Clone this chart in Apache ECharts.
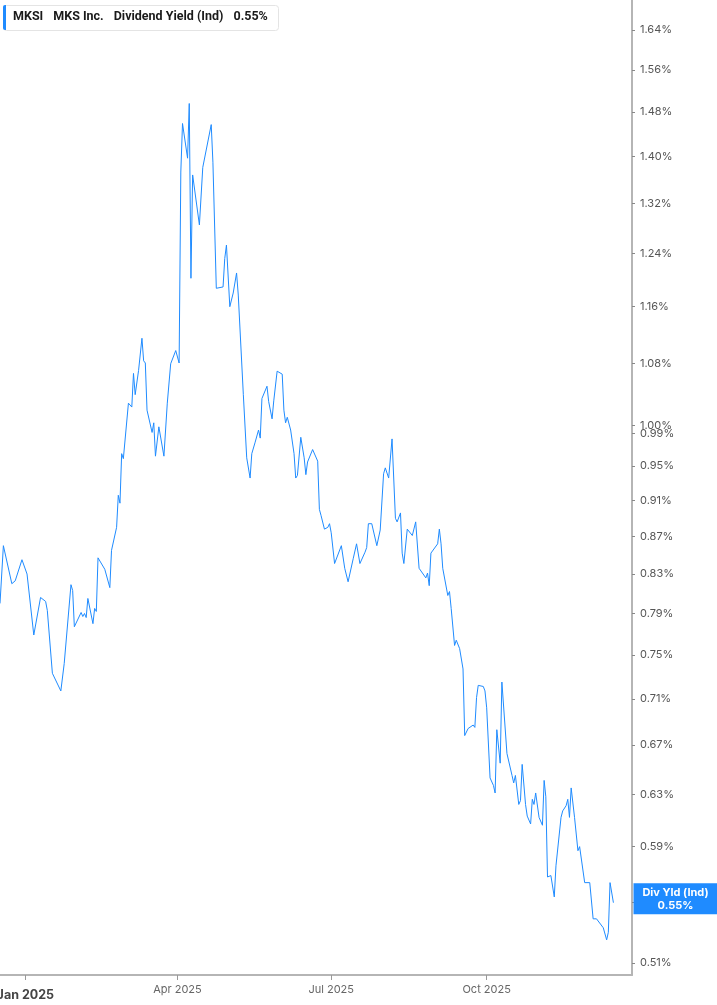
<!DOCTYPE html>
<html>
<head>
<meta charset="utf-8">
<script src="https://cdn.jsdelivr.net/npm/echarts@6/dist/echarts.min.js"></script>
<style>
html, body { margin: 0; padding: 0; background: #fff; }
#container { width: 717px; height: 1005px; }
</style>
</head>
<body>
<div id="container"></div>
<script>
// MKSI dividend yield (ind), daily closes
var dates = [
    '2024-12-17', '2024-12-19', '2024-12-24', '2024-12-26', '2024-12-30',
    '2025-01-02', '2025-01-06', '2025-01-10', '2025-01-13', '2025-01-14', '2025-01-17', '2025-01-22', '2025-01-24', '2025-01-28', '2025-01-29', '2025-01-30', '2025-01-31',
    '2025-02-03', '2025-02-04', '2025-02-05', '2025-02-06', '2025-02-07', '2025-02-10', '2025-02-11', '2025-02-12', '2025-02-13', '2025-02-14', '2025-02-17', '2025-02-20', '2025-02-21', '2025-02-24', '2025-02-25', '2025-02-26', '2025-02-27', '2025-02-28',
    '2025-03-03', '2025-03-05', '2025-03-06', '2025-03-07', '2025-03-09', '2025-03-11', '2025-03-12', '2025-03-13', '2025-03-14', '2025-03-17', '2025-03-18', '2025-03-19', '2025-03-21', '2025-03-24', '2025-03-26', '2025-03-28', '2025-03-31',
    '2025-04-02', '2025-04-03', '2025-04-04', '2025-04-07', '2025-04-08', '2025-04-09', '2025-04-10', '2025-04-14', '2025-04-16', '2025-04-17', '2025-04-21', '2025-04-22', '2025-04-24', '2025-04-28', '2025-04-29', '2025-04-30',
    '2025-05-02', '2025-05-04', '2025-05-06', '2025-05-07', '2025-05-10', '2025-05-12', '2025-05-14', '2025-05-15', '2025-05-17', '2025-05-19', '2025-05-20', '2025-05-21', '2025-05-22', '2025-05-24', '2025-05-25', '2025-05-27', '2025-05-28', '2025-05-29', '2025-05-30',
    '2025-06-02', '2025-06-03', '2025-06-04', '2025-06-05', '2025-06-07', '2025-06-09', '2025-06-10', '2025-06-11', '2025-06-12', '2025-06-13', '2025-06-15', '2025-06-16', '2025-06-17', '2025-06-18', '2025-06-20', '2025-06-23', '2025-06-24', '2025-06-25', '2025-06-27', '2025-06-29', '2025-06-30',
    '2025-07-01', '2025-07-03', '2025-07-04', '2025-07-07', '2025-07-09', '2025-07-11', '2025-07-14', '2025-07-16', '2025-07-18', '2025-07-21', '2025-07-22', '2025-07-23', '2025-07-25', '2025-07-28', '2025-07-30',
    '2025-08-01', '2025-08-02', '2025-08-04', '2025-08-06', '2025-08-08', '2025-08-09', '2025-08-11', '2025-08-12', '2025-08-13', '2025-08-15', '2025-08-18', '2025-08-20', '2025-08-21', '2025-08-22', '2025-08-26', '2025-08-27', '2025-08-28', '2025-08-29',
    '2025-09-02', '2025-09-03', '2025-09-04', '2025-09-05', '2025-09-08', '2025-09-09', '2025-09-10', '2025-09-12', '2025-09-13', '2025-09-15', '2025-09-17', '2025-09-18', '2025-09-20', '2025-09-23', '2025-09-24', '2025-09-25', '2025-09-26', '2025-09-29', '2025-09-30',
    '2025-10-01', '2025-10-03', '2025-10-05', '2025-10-06', '2025-10-07', '2025-10-09', '2025-10-10', '2025-10-13', '2025-10-14', '2025-10-16', '2025-10-17', '2025-10-18', '2025-10-20', '2025-10-21', '2025-10-22', '2025-10-24', '2025-10-25', '2025-10-27', '2025-10-28', '2025-10-29', '2025-10-30',
    '2025-11-01', '2025-11-03', '2025-11-04', '2025-11-05', '2025-11-06', '2025-11-08', '2025-11-10', '2025-11-11', '2025-11-12', '2025-11-14', '2025-11-15', '2025-11-17', '2025-11-18', '2025-11-19', '2025-11-20', '2025-11-22', '2025-11-24', '2025-11-25', '2025-11-28',
    '2025-12-01', '2025-12-03', '2025-12-05', '2025-12-06', '2025-12-09', '2025-12-11', '2025-12-12', '2025-12-13', '2025-12-15'
];

var yields = [
    0.80, 0.86, 0.82, 0.823, 0.845,
    0.83, 0.769, 0.806, 0.802, 0.793, 0.733, 0.717, 0.742, 0.819, 0.813, 0.777, 0.776,
    0.791, 0.787, 0.79, 0.786, 0.805, 0.78, 0.795, 0.792, 0.847, 0.849, 0.835, 0.816, 0.855, 0.88, 0.916, 0.907, 0.965, 0.959,
    1.028, 1.023, 1.067, 1.039, 1.071, 1.115, 1.084, 1.081, 1.019, 0.991, 1.003, 0.962, 0.998, 0.962, 1.028, 1.08, 1.098,
    1.081, 1.373, 1.459, 1.397, 1.496, 1.202, 1.368, 1.285, 1.381, 1.381, 1.457, 1.39, 1.187, 1.189, 1.232, 1.253,
    1.16, 1.18, 1.21, 1.177, 1.039, 0.96, 0.936, 0.965, 0.979, 0.994, 0.984, 1.034, 1.036, 1.05, 1.03, 1.008, 1.031, 1.032, 1.07,
    1.066, 1.019, 1.003, 1.01, 0.994, 0.965, 0.936, 0.939, 0.939, 0.985, 0.96, 0.94, 0.955, 0.955, 0.97, 0.956, 0.90, 0.893, 0.878, 0.88, 0.884,
    0.874, 0.841, 0.842, 0.86, 0.836, 0.822, 0.846, 0.862, 0.841, 0.853, 0.858, 0.884, 0.884, 0.86, 0.877,
    0.941, 0.948, 0.936, 0.983, 0.89, 0.886, 0.896, 0.852, 0.841, 0.878, 0.871, 0.886, 0.884, 0.836, 0.826, 0.831, 0.818, 0.852,
    0.862, 0.878, 0.862, 0.836, 0.808, 0.812, 0.795, 0.759, 0.764, 0.756, 0.737, 0.678, 0.684, 0.687, 0.685, 0.711, 0.722, 0.721, 0.717,
    0.702, 0.643, 0.637, 0.631, 0.683, 0.655, 0.725, 0.663, 0.663, 0.645, 0.639, 0.645, 0.622, 0.625, 0.654, 0.622, 0.613, 0.607, 0.626, 0.622, 0.631,
    0.612, 0.606, 0.641, 0.628, 0.568, 0.569, 0.554, 0.576, 0.575, 0.612, 0.617, 0.621, 0.626, 0.612, 0.635, 0.612, 0.587, 0.59, 0.564,
    0.564, 0.539, 0.539, 0.54, 0.533, 0.525, 0.53, 0.564, 0.55
];

var yTicks = [1.64, 1.56, 1.48, 1.40, 1.32, 1.24, 1.16, 1.08, 1.00, 0.99, 0.95, 0.91, 0.87, 0.83, 0.79, 0.75, 0.71, 0.67, 0.63, 0.59, 0.55, 0.51];
var xTicks = ['2025-01-01', '2025-04-01', '2025-07-01', '2025-10-01'];
var monthNames = ['Jan', 'Feb', 'Mar', 'Apr', 'May', 'Jun', 'Jul', 'Aug', 'Sep', 'Oct', 'Nov', 'Dec'];
var xRange = ['2024-12-17', '2025-12-26'];
var yRange = [0.5024, 1.703];
var lastYield = 0.55;

var dom = document.getElementById('container');
var myChart = echarts.init(dom);

function ts(d) {
    return echarts.time.parse(d).getTime();
}

// dates go on a numeric axis as timestamps; the price scale is
// logarithmic, so the line lives on ln(yield)
var lineData = dates.map(function (d, i) {
    return [ts(d), Math.log(yields[i])];
});
var yTickValues = yTicks.map(function (v) { return Math.log(v); });
var xTickValues = xTicks.map(ts);

var blue = '#1f8bff';
var font = 'Inter, Roboto, sans-serif';
var headFont = 'Roboto, Inter, sans-serif';

option = {
    animation: false,
    backgroundColor: '#fff',
    textStyle: { fontFamily: font },
    title: {
        left: 13,
        top: 10,
        padding: 0,
        text: '{b|MKSI}{b|MKS Inc.}{n|Dividend Yield (Ind)}{b|' + lastYield.toFixed(2) + '%}',
        textStyle: {
            rich: {
                b: { fontFamily: headFont, fontSize: 12.5, fontWeight: 'bold', color: '#1a1a1a', padding: [0, 10, 0, 0] },
                n: { fontFamily: headFont, fontSize: 12.5, color: '#1a1a1a', padding: [0, 10, 0, 0] }
            }
        }
    },
    graphic: [{
        type: 'rect',
        left: 3,
        top: 5,
        z: -1,
        shape: { width: 275, height: 25, r: 3 },
        style: { fill: '#fff', stroke: '#e4e4e4', lineWidth: 1 }
    }, {
        type: 'rect',
        left: 3,
        top: 5,
        shape: { width: 3, height: 25, r: [2, 0, 0, 2] },
        style: { fill: blue }
    }],
    grid: {
        left: 0,
        right: 85,
        top: 0,
        bottom: 30,
        outerBoundsMode: 'none'
    },
    xAxis: {
        type: 'value',
        min: ts(xRange[0]),
        max: ts(xRange[1]),
        splitLine: { show: false },
        axisLine: { onZero: false, lineStyle: { color: '#b5b5b5', width: 2 } },
        axisTick: {
            customValues: xTickValues,
            length: 5,
            lineStyle: { color: '#999' }
        },
        axisLabel: {
            customValues: xTickValues,
            margin: 9,
            color: '#666',
            fontSize: 11,
            formatter: function (val) {
                var d = new Date(val);
                var s = monthNames[d.getMonth()] + ' ' + d.getFullYear();
                return d.getMonth() === 0 ? '{y|' + s + '}' : s;
            },
            rich: {
                y: { fontFamily: font, fontSize: 12.5, fontWeight: 'bold', color: '#444', padding: [5, 0, 0, 0] }
            }
        }
    },
    yAxis: {
        type: 'value',
        position: 'right',
        min: Math.log(yRange[0]),
        max: Math.log(yRange[1]),
        splitLine: { show: false },
        axisLine: { show: true, onZero: false, lineStyle: { color: '#b5b5b5', width: 2 } },
        axisTick: {
            show: true,
            customValues: yTickValues,
            length: 3,
            lineStyle: { color: '#888' }
        },
        axisLabel: {
            customValues: yTickValues,
            margin: 8,
            color: '#555',
            fontSize: 11,
            formatter: function (v) {
                return Math.exp(v).toFixed(2) + '%';
            }
        }
    },
    series: [{
        name: 'Div Yld (Ind)',
        type: 'line',
        data: lineData,
        showSymbol: false,
        lineStyle: { color: blue, width: 1 },
        itemStyle: { color: blue },
        markPoint: {
            symbol: 'rect',
            symbolSize: 1,
            itemStyle: { color: 'transparent' },
            label: {
                show: true,
                position: 'right',
                distance: 1,
                offset: [0, -4],
                backgroundColor: blue,
                padding: [3, 7, 2, 7],
                formatter: '{t|Div Yld (Ind)}\n{t|' + lastYield.toFixed(2) + '%}',
                rich: {
                    t: {
                        color: '#fff',
                        fontFamily: font,
                        fontWeight: 'bold',
                        fontSize: 11,
                        lineHeight: 13,
                        width: 70,
                        align: 'center'
                    }
                }
            },
            data: [{ coord: [ts(xRange[1]), Math.log(lastYield)] }]
        }
    }]
};

if (option && typeof option === 'object') {
    myChart.setOption(option, true);
}
</script>
</body>
</html>
